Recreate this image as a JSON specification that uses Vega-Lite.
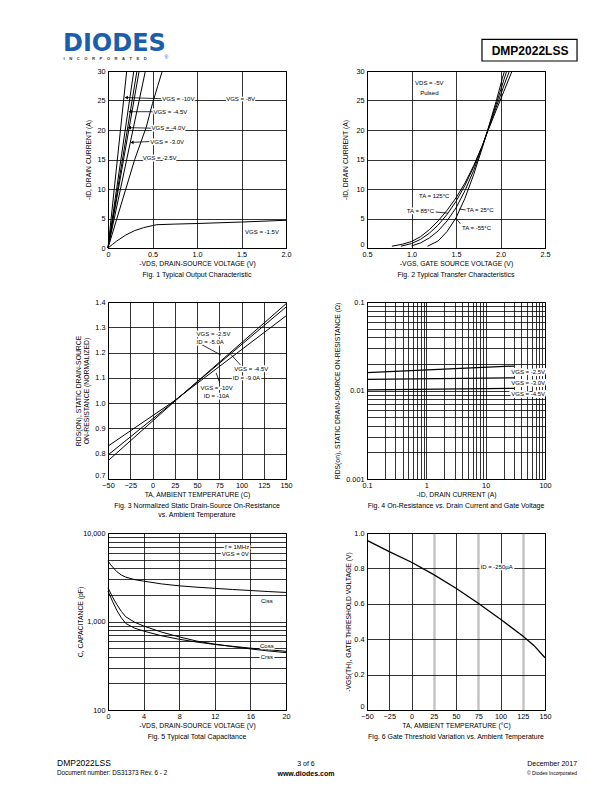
{
"$schema":"https://vega.github.io/schema/vega-lite/v6.json",
"background":"white",
"padding":{"left":57,"top":1,"right":5,"bottom":5},
"autosize":{"type":"pad"},
"columns":2,
"bounds":"flush",
"spacing":{"row":54,"column":81},
"datasets":{
"f1":[
{"s":"10","x":0,"y":0},{"s":"10","x":0.21,"y":30},
{"s":"8","x":0,"y":0},{"s":"8","x":0.29,"y":30},
{"s":"4.5","x":0,"y":0},{"s":"4.5","x":0.325,"y":30},
{"s":"4.0","x":0,"y":0},{"s":"4.0","x":0.35,"y":30},
{"s":"3.0","x":0,"y":0},{"s":"3.0","x":0.42,"y":30},
{"s":"2.5","x":0,"y":0},{"s":"2.5","x":0.3,"y":15},{"s":"2.5","x":0.43,"y":20.5},{"s":"2.5","x":0.5,"y":24.5},{"s":"2.5","x":0.56,"y":27.5},{"s":"2.5","x":0.61,"y":30},
{"s":"1.5","x":0,"y":0},{"s":"1.5","x":0.05,"y":0.6},{"s":"1.5","x":0.1,"y":1.2},{"s":"1.5","x":0.2,"y":2.2},{"s":"1.5","x":0.3,"y":2.95},{"s":"1.5","x":0.4,"y":3.45},{"s":"1.5","x":0.5,"y":3.8},{"s":"1.5","x":0.55,"y":3.95},{"s":"1.5","x":0.75,"y":4.05},{"s":"1.5","x":1.0,"y":4.15},{"s":"1.5","x":1.5,"y":4.4},{"s":"1.5","x":2.0,"y":4.7}
],
"f1l":[
{"label":"VGS = -10V","x":0.79,"y":25.3},
{"label":"VGS = -8V","x":1.49,"y":25.3},
{"label":"VGS = -4.5V","x":0.70,"y":23.1},
{"label":"VGS = -4.0V","x":0.68,"y":20.3},
{"label":"VGS = -3.0V","x":0.665,"y":18.05},
{"label":"VGS = -2.5V","x":0.58,"y":15.3},
{"label":"VGS = -1.5V","x":1.73,"y":2.65}
],
"f1a":[
{"x":0.205,"y":25.5,"x2":0.60,"y2":25.3},
{"x":0.25,"y":23.1,"x2":0.52,"y2":23.1},
{"x":0.24,"y":20.4,"x2":0.50,"y2":20.3},
{"x":0.27,"y":17.9,"x2":0.48,"y2":18.05}
],
"f2":[
{"s":"125","x":0.78,"y":0.3},{"s":"125","x":0.9,"y":0.65},{"s":"125","x":1.0,"y":1.1},{"s":"125","x":1.1,"y":1.9},{"s":"125","x":1.2,"y":3.1},{"s":"125","x":1.3,"y":4.6},{"s":"125","x":1.4,"y":6.4},{"s":"125","x":1.5,"y":8.5},{"s":"125","x":1.6,"y":11.0},{"s":"125","x":1.7,"y":14.0},{"s":"125","x":1.8,"y":17.5},{"s":"125","x":1.86,"y":19.9},{"s":"125","x":1.95,"y":23.3},{"s":"125","x":2.05,"y":27.0},{"s":"125","x":2.13,"y":30},
{"s":"85","x":0.88,"y":0.3},{"s":"85","x":1.0,"y":0.75},{"s":"85","x":1.1,"y":1.45},{"s":"85","x":1.2,"y":2.5},{"s":"85","x":1.3,"y":3.9},{"s":"85","x":1.4,"y":5.7},{"s":"85","x":1.5,"y":7.9},{"s":"85","x":1.6,"y":10.6},{"s":"85","x":1.7,"y":13.8},{"s":"85","x":1.8,"y":17.5},{"s":"85","x":1.86,"y":20},{"s":"85","x":1.95,"y":23.8},{"s":"85","x":2.05,"y":28.0},{"s":"85","x":2.1,"y":30},
{"s":"25","x":1.0,"y":0.35},{"s":"25","x":1.1,"y":0.85},{"s":"25","x":1.2,"y":1.7},{"s":"25","x":1.3,"y":2.9},{"s":"25","x":1.4,"y":4.6},{"s":"25","x":1.5,"y":6.8},{"s":"25","x":1.6,"y":9.7},{"s":"25","x":1.7,"y":13.2},{"s":"25","x":1.8,"y":17.4},{"s":"25","x":1.86,"y":20.1},{"s":"25","x":1.95,"y":24.3},{"s":"25","x":2.04,"y":28.6},{"s":"25","x":2.07,"y":30},
{"s":"-55","x":1.18,"y":0.3},{"s":"-55","x":1.3,"y":1.2},{"s":"-55","x":1.4,"y":2.8},{"s":"-55","x":1.5,"y":5.1},{"s":"-55","x":1.6,"y":8.4},{"s":"-55","x":1.7,"y":12.5},{"s":"-55","x":1.8,"y":17.2},{"s":"-55","x":1.86,"y":20.2},{"s":"-55","x":1.95,"y":24.8},{"s":"-55","x":2.02,"y":28.7},{"s":"-55","x":2.045,"y":30}
],
"f2l":[
{"label":"VDS = -5V","x":1.2,"y":27.9},
{"label":"Pulsed","x":1.2,"y":26.3},
{"label":"TA = 125°C","x":1.255,"y":8.85},
{"label":"TA = 85°C","x":1.1,"y":6.2},
{"label":"TA = 25°C","x":1.77,"y":6.4},
{"label":"TA = -55°C","x":1.73,"y":3.4}
],
"f2a":[
{"x":1.41,"y":5.9,"x2":1.27,"y2":6.1},
{"x":1.535,"y":6.6,"x2":1.61,"y2":6.45},
{"x":1.5,"y":5.0,"x2":1.55,"y2":4.1}
],
"f3":[
{"s":"a","x":-50,"y":0.83},{"s":"a","x":22,"y":1.003},{"s":"a","x":150,"y":1.345},
{"s":"b","x":-50,"y":0.795},{"s":"b","x":22,"y":1.0},{"s":"b","x":150,"y":1.38},
{"s":"c","x":-50,"y":0.772},{"s":"c","x":22,"y":0.998},{"s":"c","x":150,"y":1.393}
],
"f3l":[
{"label":"VGS = -2.5V","x":68.5,"y":1.273},
{"label":"ID = -5.0A","x":64.8,"y":1.24},
{"label":"VGS = -4.5V","x":111,"y":1.137},
{"label":"ID = -9.0A","x":105.5,"y":1.10},
{"label":"VGS = -10V","x":72,"y":1.06},
{"label":"ID = -10A","x":72,"y":1.027}
],
"f3a":[
{"x":77,"y":1.19,"x2":55,"y2":1.232},
{"x":88,"y":1.193,"x2":99,"y2":1.15},
{"x":71.5,"y":1.12,"x2":75.5,"y2":1.08}
],
"f4":[
{"s":"2.5","x":0.1,"y":0.0159},{"s":"2.5","x":30,"y":0.0189},
{"s":"3.0","x":0.1,"y":0.01336},{"s":"3.0","x":30,"y":0.0139},
{"s":"4.5","x":0.1,"y":0.01014},{"s":"4.5","x":30,"y":0.01057}
],
"f4l":[
{"label":"VGS = -2.5V","x":52,"y":0.0163},
{"label":"VGS = -3.0V","x":52,"y":0.01205},
{"label":"VGS = -4.5V","x":52,"y":0.00914}
],
"f5":[
{"s":"Ciss","x":0,"y":4850},{"s":"Ciss","x":0.25,"y":4450},{"s":"Ciss","x":0.5,"y":4150},{"s":"Ciss","x":1,"y":3650},{"s":"Ciss","x":1.5,"y":3350},{"s":"Ciss","x":2,"y":3170},{"s":"Ciss","x":3,"y":2970},{"s":"Ciss","x":4,"y":2860},{"s":"Ciss","x":6,"y":2660},{"s":"Ciss","x":8,"y":2530},{"s":"Ciss","x":10,"y":2440},{"s":"Ciss","x":12,"y":2370},{"s":"Ciss","x":14,"y":2300},{"s":"Ciss","x":16,"y":2240},{"s":"Ciss","x":18,"y":2180},{"s":"Ciss","x":20,"y":2130},
{"s":"Coss","x":0,"y":2400},{"s":"Coss","x":0.5,"y":1900},{"s":"Coss","x":1,"y":1550},{"s":"Coss","x":1.5,"y":1300},{"s":"Coss","x":2,"y":1130},{"s":"Coss","x":3,"y":980},{"s":"Coss","x":4,"y":890},{"s":"Coss","x":6,"y":760},{"s":"Coss","x":8,"y":670},{"s":"Coss","x":10,"y":600},{"s":"Coss","x":12,"y":555},{"s":"Coss","x":14,"y":520},{"s":"Coss","x":16,"y":490},{"s":"Coss","x":18,"y":465},{"s":"Coss","x":20,"y":445},
{"s":"Crss","x":0,"y":2200},{"s":"Crss","x":0.5,"y":1700},{"s":"Crss","x":1,"y":1330},{"s":"Crss","x":1.5,"y":1100},{"s":"Crss","x":2,"y":950},{"s":"Crss","x":3,"y":840},{"s":"Crss","x":4,"y":780},{"s":"Crss","x":6,"y":690},{"s":"Crss","x":8,"y":630},{"s":"Crss","x":10,"y":585},{"s":"Crss","x":12,"y":550},{"s":"Crss","x":14,"y":525},{"s":"Crss","x":16,"y":500},{"s":"Crss","x":18,"y":480},{"s":"Crss","x":20,"y":460}
],
"f5l":[
{"label":"f = 1MHz","x":14.5,"y":6920},
{"label":"VGS = 0V","x":14.3,"y":5840},
{"label":"Ciss","x":17.85,"y":1715},
{"label":"Coss","x":17.85,"y":531},
{"label":"Crss","x":17.85,"y":400}
],
"f6":[
{"x":-50,"y":0.958},{"x":-25,"y":0.895},{"x":0,"y":0.835},{"x":25,"y":0.765},{"x":50,"y":0.688},{"x":75,"y":0.603},{"x":100,"y":0.513},{"x":125,"y":0.418},{"x":137.5,"y":0.365},{"x":150,"y":0.295}
],
"f6l":[
{"label":"ID = -250µA","x":95.7,"y":0.807}
]
},
"concat":[
{"width":178,"height":16,"view":{"stroke":null},
 "layer":[
  {"data":{"values":[{"t":"DIODES"}]},"mark":{"type":"text","align":"left","baseline":"alphabetic","font":"DejaVu Sans","fontSize":24,"fontWeight":"bold","color":"#1b5eab"},
   "encoding":{"x":{"datum":-0.253,"type":"quantitative","scale":{"domain":[0,1]},"axis":null},"y":{"datum":-2.094,"type":"quantitative","scale":{"domain":[0,1]},"axis":null},"text":{"field":"t"}}},
  {"data":{"values":[{"t":"I\u00a0\u00a0\u00a0\u00a0N\u00a0\u00a0\u00a0\u00a0C\u00a0\u00a0\u00a0\u00a0O\u00a0\u00a0\u00a0\u00a0R\u00a0\u00a0\u00a0\u00a0P\u00a0\u00a0\u00a0\u00a0O\u00a0\u00a0\u00a0\u00a0R\u00a0\u00a0\u00a0\u00a0A\u00a0\u00a0\u00a0\u00a0T\u00a0\u00a0\u00a0\u00a0E\u00a0\u00a0\u00a0\u00a0D"}]},"mark":{"type":"text","align":"left","baseline":"alphabetic","fontSize":4.1,"fontWeight":"bold","color":"#333333"},
   "encoding":{"x":{"datum":-0.25,"type":"quantitative","axis":null},"y":{"datum":-2.69,"type":"quantitative","axis":null},"text":{"field":"t"}}},
  {"data":{"values":[{"t":"®"}]},"mark":{"type":"text","align":"left","baseline":"alphabetic","fontSize":5,"color":"#1b5eab"},
   "encoding":{"x":{"datum":0.318,"type":"quantitative","axis":null},"y":{"datum":-2.6,"type":"quantitative","axis":null},"text":{"field":"t"}}}
 ]},
{"width":178,"height":16,"view":{"stroke":null},
 "layer":[
  {"data":{"values":[{"t":"DMP2022LSS"}]},"mark":{"type":"rect","filled":false,"color":"black","strokeWidth":1.2},
   "encoding":{"x":{"datum":0.646,"type":"quantitative","scale":{"domain":[0,1]},"axis":null},"x2":{"datum":1.18},"y":{"datum":-1.394,"type":"quantitative","scale":{"domain":[0,1]},"axis":null},"y2":{"datum":-2.75}}},
  {"data":{"values":[{"t":"DMP2022LSS"}]},"mark":{"type":"text","align":"center","baseline":"alphabetic","fontSize":12,"fontWeight":"bold","color":"black"},
   "encoding":{"x":{"datum":0.916,"type":"quantitative","axis":null},"y":{"datum":-2.394,"type":"quantitative","axis":null},"text":{"field":"t"}}}
 ]},
{"width":178,"height":177,
 "title":{"text":"Fig. 1 Typical Output Characteristic"},
 "encoding":{"x":{"field":"x","type":"quantitative","scale":{"domain":[0,2]},"axis":{"values":[0,0.5,1,1.5,2],"labelExpr":"datum.value == 0 ? '0' : format(datum.value, '.1f')","title":"-VDS, DRAIN-SOURCE VOLTAGE (V)"}},
    "y":{"field":"y","type":"quantitative","scale":{"domain":[0,30]},"axis":{"values":[0,5,10,15,20,25,30],"title":"-ID, DRAIN CURRENT (A)","titlePadding":5}}},
 "layer":[
  {"data":{"name":"f1"},"mark":{"type":"line","strokeWidth":1},"encoding":{"detail":{"field":"s"}}},
  {"data":{"name":"f1a"},"mark":{"type":"rule","strokeWidth":0.8,"color":"black"},"encoding":{"x2":{"field":"x2"},"y2":{"field":"y2"}}},
  {"data":{"name":"f1a"},"mark":{"type":"point","shape":"triangle-left","filled":true,"size":14,"color":"black","opacity":1},"encoding":{}},
  {"data":{"name":"f1l"},"mark":{"type":"text","stroke":"white","strokeWidth":3,"strokeJoin":"round"},"encoding":{"text":{"field":"label"}}},
  {"data":{"name":"f1l"},"mark":{"type":"text"},"encoding":{"text":{"field":"label"}}}
 ]},
{"width":178,"height":177,
 "title":{"text":"Fig. 2 Typical Transfer Characteristics"},
 "encoding":{"x":{"field":"x","type":"quantitative","scale":{"domain":[0.5,2.5]},"axis":{"values":[0.5,1,1.5,2,2.5],"title":"-VGS, GATE SOURCE VOLTAGE (V)"}},
    "y":{"field":"y","type":"quantitative","scale":{"domain":[0,30]},"axis":{"values":[0,5,10,15,20,25,30],"title":"-ID, DRAIN CURRENT (A)","titlePadding":7,
      "labelBaseline":{"condition":{"test":"datum.value === 0","value":"bottom"},"value":"middle"}}}},
 "layer":[
  {"data":{"name":"f2"},"mark":{"type":"line","strokeWidth":1},"encoding":{"detail":{"field":"s"}}},
  {"data":{"name":"f2a"},"mark":{"type":"rule","strokeWidth":0.8,"color":"black"},"encoding":{"x2":{"field":"x2"},"y2":{"field":"y2"}}},
  {"data":{"name":"f2l"},"mark":{"type":"text","stroke":"white","strokeWidth":3,"strokeJoin":"round"},"encoding":{"text":{"field":"label"}}},
  {"data":{"name":"f2l"},"mark":{"type":"text"},"encoding":{"text":{"field":"label"}}}
 ]},
{"width":178,"height":177,
 "title":{"text":["Fig. 3 Normalized Static Drain-Source On-Resistance","vs. Ambient Temperature"]},
 "encoding":{"x":{"field":"x","type":"quantitative","scale":{"domain":[-50,150]},"axis":{"values":[-50,-25,0,25,50,75,100,125,150],"title":"TA, AMBIENT TEMPERATURE (C)"}},
    "y":{"field":"y","type":"quantitative","scale":{"domain":[0.7,1.4]},"axis":{"values":[0.7,0.8,0.9,1.0,1.1,1.2,1.3,1.4],"labelExpr":"format(datum.value, '.1f')","title":["RDS(ON), STATIC DRAIN-SOURCE","ON-RESISTANCE (NORMALIZED)"],"titlePadding":5,
      "labelBaseline":{"condition":{"test":"datum.value === 0.7","value":"bottom"},"value":"middle"}}}},
 "layer":[
  {"data":{"name":"f3"},"mark":{"type":"line","strokeWidth":1},"encoding":{"detail":{"field":"s"}}},
  {"data":{"name":"f3a"},"mark":{"type":"rule","strokeWidth":0.8,"color":"black"},"encoding":{"x2":{"field":"x2"},"y2":{"field":"y2"}}},
  {"data":{"name":"f3l"},"mark":{"type":"text","stroke":"white","strokeWidth":3,"strokeJoin":"round"},"encoding":{"text":{"field":"label"}}},
  {"data":{"name":"f3l"},"mark":{"type":"text"},"encoding":{"text":{"field":"label"}}}
 ]},
{"width":178,"height":177,
 "title":{"text":"Fig. 4  On-Resistance vs. Drain Current and Gate Voltage"},
 "encoding":{"x":{"field":"x","type":"quantitative","scale":{"type":"log","domain":[0.1,100]},"axis":{"values":[0.1,0.2,0.3,0.4,0.5,0.6,0.7,0.8,0.9,1,2,3,4,5,6,7,8,9,10,20,30,40,50,60,70,80,90,100],"labelExpr":"datum.value == 0.1 ? '0.1' : datum.value == 1 ? '1' : datum.value == 10 ? '10' : datum.value == 100 ? '100' : ''","title":"-ID, DRAIN CURRENT (A)"}},
    "y":{"field":"y","type":"quantitative","scale":{"type":"log","domain":[0.001,0.1]},"axis":{"values":[0.001,0.002,0.003,0.004,0.005,0.006,0.007,0.008,0.009,0.01,0.02,0.03,0.04,0.05,0.06,0.07,0.08,0.09,0.1],"labelExpr":"datum.value == 0.001 ? '0.001' : datum.value == 0.01 ? '0.01' : datum.value == 0.1 ? '0.1' : ''","title":"RDS(on), STATIC DRAIN-SOURCE ON-RESISTANCE (Ω)","titlePadding":5}}},
 "layer":[
  {"data":{"name":"f4"},"mark":{"type":"line","strokeWidth":1.2},"encoding":{"detail":{"field":"s"}}},
  {"data":{"name":"f4l"},"mark":{"type":"text","stroke":"white","strokeWidth":4,"strokeJoin":"round"},"encoding":{"text":{"field":"label"}}},
  {"data":{"name":"f4l"},"mark":{"type":"text"},"encoding":{"text":{"field":"label"}}}
 ]},
{"width":178,"height":177,
 "title":{"text":"Fig. 5  Typical Total Capacitance"},
 "encoding":{"x":{"field":"x","type":"quantitative","scale":{"domain":[0,20]},"axis":{"values":[0,4,8,12,16,20],"title":"-VDS, DRAIN-SOURCE VOLTAGE (V)"}},
    "y":{"field":"y","type":"quantitative","scale":{"type":"log","domain":[100,10000]},"axis":{"values":[100,200,300,400,500,600,700,800,900,1000,2000,3000,4000,5000,6000,7000,8000,9000,10000],"labelExpr":"datum.value == 100 ? '100' : datum.value == 1000 ? '1,000' : datum.value == 10000 ? '10,000' : ''","title":"C, CAPACITANCE (pF)","titlePadding":-1}}},
 "layer":[
  {"data":{"name":"f5"},"mark":{"type":"line","strokeWidth":1},"encoding":{"detail":{"field":"s"}}},
  {"data":{"name":"f5l"},"mark":{"type":"text","stroke":"white","strokeWidth":3,"strokeJoin":"round"},"encoding":{"text":{"field":"label"}}},
  {"data":{"name":"f5l"},"mark":{"type":"text"},"encoding":{"text":{"field":"label"}}}
 ]},
{"width":178,"height":177,
 "title":{"text":"Fig. 6 Gate Threshold Variation vs. Ambient Temperature"},
 "encoding":{"x":{"field":"x","type":"quantitative","scale":{"domain":[-50,150]},"axis":{"values":[-50,-25,0,25,50,75,100,125,150],"title":"TA, AMBIENT TEMPERATURE (°C)",
      "gridColor":{"condition":{"test":"datum.value === 25 || datum.value === 75 || datum.value === 125","value":"#c4c4c4"},"value":"black"},
      "gridWidth":{"condition":{"test":"datum.value === 25 || datum.value === 75 || datum.value === 125","value":2.5},"value":0.8}}},
    "y":{"field":"y","type":"quantitative","scale":{"domain":[0,1]},"axis":{"values":[0,0.2,0.4,0.6,0.8,1.0],"labelExpr":"datum.value == 0 ? '0' : format(datum.value, '.1f')","title":"-VGS(TH), GATE THRESHOLD VOLTAGE (V)","titlePadding":2,
      "labelBaseline":{"condition":{"test":"datum.value === 0","value":"bottom"},"value":"middle"}}}},
 "layer":[
  {"data":{"name":"f6"},"mark":{"type":"line","strokeWidth":1.3},"encoding":{}},
  {"data":{"name":"f6l"},"mark":{"type":"text","stroke":"white","strokeWidth":3,"strokeJoin":"round"},"encoding":{"text":{"field":"label"}}},
  {"data":{"name":"f6l"},"mark":{"type":"text"},"encoding":{"text":{"field":"label"}}}
 ]},
{"width":178,"height":12,"view":{"stroke":null},
 "layer":[
  {"data":{"values":[{"t":"DMP2022LSS"}]},"mark":{"type":"text","align":"left","baseline":"alphabetic","fontSize":8.5},
   "encoding":{"x":{"datum":-0.2865,"type":"quantitative","scale":{"domain":[0,1]},"axis":null},"y":{"datum":0.833,"type":"quantitative","scale":{"domain":[0,1]},"axis":null},"text":{"field":"t"}}},
  {"data":{"values":[{"t":"Document number: DS31373 Rev. 6 - 2"}]},"mark":{"type":"text","align":"left","baseline":"alphabetic","fontSize":6.3},
   "encoding":{"x":{"datum":-0.2865,"type":"quantitative","axis":null},"y":{"datum":0.067,"type":"quantitative","axis":null},"text":{"field":"t"}}},
  {"data":{"values":[{"t":"3 of 6"}]},"mark":{"type":"text","align":"center","baseline":"alphabetic","fontSize":7},
   "encoding":{"x":{"datum":1.112,"type":"quantitative","axis":null},"y":{"datum":0.875,"type":"quantitative","axis":null},"text":{"field":"t"}}},
  {"data":{"values":[{"t":"www.diodes.com"}]},"mark":{"type":"text","align":"center","baseline":"alphabetic","fontSize":7,"fontWeight":"bold"},
   "encoding":{"x":{"datum":1.112,"type":"quantitative","axis":null},"y":{"datum":0.04,"type":"quantitative","axis":null},"text":{"field":"t"}}}
 ]},
{"width":178,"height":12,"view":{"stroke":null},
 "layer":[
  {"data":{"values":[{"t":"December 2017"}]},"mark":{"type":"text","align":"right","baseline":"alphabetic","fontSize":7},
   "encoding":{"x":{"datum":1.18,"type":"quantitative","scale":{"domain":[0,1]},"axis":null},"y":{"datum":0.875,"type":"quantitative","scale":{"domain":[0,1]},"axis":null},"text":{"field":"t"}}},
  {"data":{"values":[{"t":"© Diodes Incorporated"}]},"mark":{"type":"text","align":"right","baseline":"alphabetic","fontSize":5},
   "encoding":{"x":{"datum":1.18,"type":"quantitative","axis":null},"y":{"datum":0.125,"type":"quantitative","axis":null},"text":{"field":"t"}}}
 ]}
],
"config":{
 "font":"Liberation Sans",
 "view":{"stroke":"black","strokeWidth":1},
 "axis":{"grid":true,"gridColor":"black","gridWidth":0.8,"gridOpacity":1,"domainColor":"black","domainWidth":1,"ticks":false,
   "labelFont":"Liberation Sans","labelFontSize":7.3,"labelColor":"black","labelFlush":false,"labelOverlap":false,"labelPadding":3,
   "titleFont":"Liberation Sans","titleFontSize":6.8,"titleFontWeight":"normal","titleColor":"black","titlePadding":3},
 "axisX":{"labelPadding":2},
 "title":{"font":"Liberation Sans","fontSize":7,"fontWeight":"normal","color":"black","orient":"bottom","offset":4,"anchor":"middle","frame":"group"},
 "line":{"color":"black"},
 "text":{"font":"Liberation Sans","fontSize":6,"color":"black"}
}
}
